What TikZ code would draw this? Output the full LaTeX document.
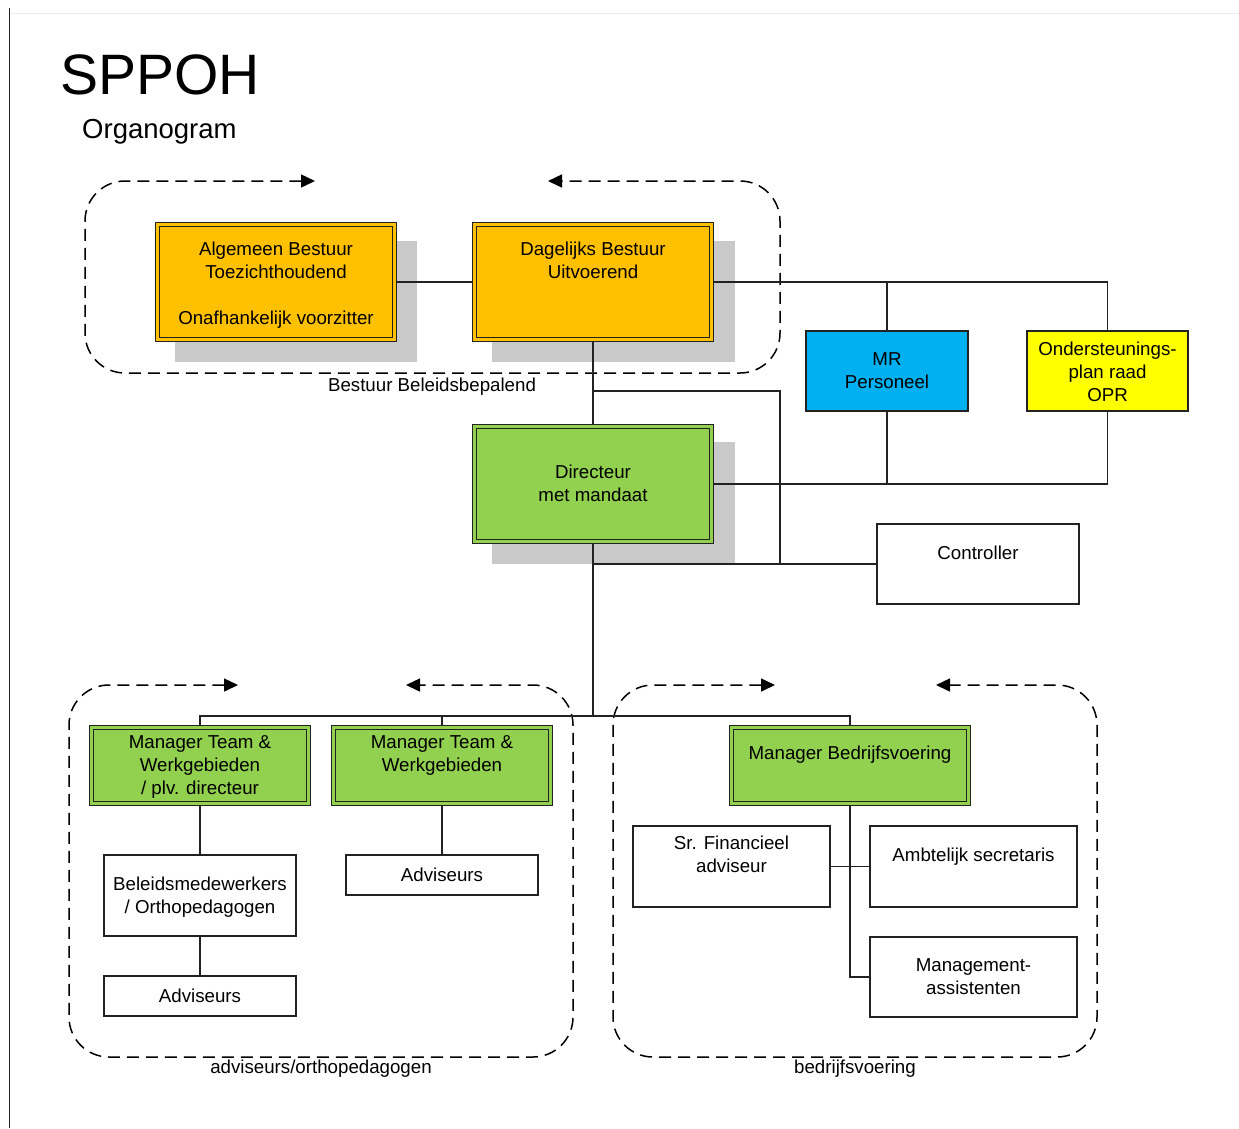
\documentclass[tikz,border=0pt]{standalone}
\usepackage{fontspec}
\setmainfont{Liberation Sans}
\usetikzlibrary{arrows.meta,calc}
\definecolor{orgfill}{HTML}{FFC000}
\definecolor{grnfill}{HTML}{92D050}
\definecolor{bluefill}{HTML}{00B0F0}
\definecolor{yelfill}{HTML}{FFFF00}
\definecolor{shadowgray}{HTML}{C9C9C9}
\definecolor{edge}{HTML}{222222}
\begin{document}
\begin{tikzpicture}[x=1pt,y=-1pt,
  bodyfont/.style={font=\fontsize{18.7}{23}\selectfont},
  txt/.style={bodyfont,inner sep=0pt,anchor=north,align=center,text=black},
  lbl/.style={bodyfont,inner sep=0pt,anchor=base,text=black},
  plainbox/.style={draw=edge,line width=1.3pt,fill=white,inner sep=0pt},
  dblbox/.style={draw=edge,line width=1.3pt,inner sep=0pt},
  innerline/.style={draw=edge,line width=1.2pt},
  conn/.style={draw=edge,line width=1.3pt},
  grp/.style={draw=black,line width=1.5pt,dash pattern=on 12pt off 7pt,rounded corners=40pt},
  tip/.tip={Triangle[length=14pt,width=13pt]}
]
\useasboundingbox (0,0) rectangle (1239,1128);
\fill[white] (0,0) rectangle (1239,1128);
% page frame
\draw[black!8,line width=1pt] (10,13) -- (1239,13);
\draw[edge,line width=1.5pt] (9.5,8) -- (9.5,1128);

% title
\node[anchor=base west,inner sep=0pt,font=\fontsize{57}{60}\selectfont] (title) at (60,94) {SPPOH};
\node[anchor=base west,inner sep=0pt,font=\fontsize{27.5}{30}\selectfont] (subtitle) at (82,138) {Organogram};

% group outlines
\draw[grp,{tip}-{tip}] (315,181) -- (85,181) -- (85,373) -- (780,373) -- (780,181) -- (548,181);
\draw[grp,{tip}-{tip}] (238,685) -- (69,685) -- (69,1057) -- (573,1057) -- (573,685) -- (406,685);
\draw[grp,{tip}-{tip}] (775,685) -- (613,685) -- (613,1057) -- (1097,1057) -- (1097,685) -- (936,685);

\node[lbl] (glab1) at (432,391) {Bestuur Beleidsbepalend};
\node[lbl] (glab2) at (321,1073) {adviseurs/orthopedagogen};
\node[lbl] (glab3) at (855,1073) {bedrijfsvoering};

% shadows
\fill[shadowgray] (175,241) rectangle (417,362);
\fill[shadowgray] (492,241) rectangle (735,362);
\fill[shadowgray] (492,442) rectangle (735,564);

% boxes
\node[dblbox,fill=orgfill,minimum width=241pt,minimum height=119pt] (ab) at (276,282) {};
\node[dblbox,fill=orgfill,minimum width=241pt,minimum height=119pt] (db) at (593,282) {};
\node[dblbox,fill=grnfill,minimum width=241pt,minimum height=119pt] (dir) at (593,484) {};
\node[plainbox,fill=bluefill,minimum width=162pt,minimum height=80pt] (mr) at (887,371) {};
\node[plainbox,fill=yelfill,minimum width=161pt,minimum height=80pt] (opr) at (1107.5,371) {};
\node[plainbox,minimum width=202pt,minimum height=80pt] (ctrl) at (978,564) {};

\node[dblbox,fill=grnfill,minimum width=221pt,minimum height=80pt] (mt1) at (200,765.5) {};
\node[dblbox,fill=grnfill,minimum width=221pt,minimum height=80pt] (mt2) at (442,765.5) {};
\node[dblbox,fill=grnfill,minimum width=241pt,minimum height=80pt] (mb) at (850,765.5) {};

\foreach \b in {ab,db,dir,mt1,mt2,mb}
  \draw[innerline] ($(\b.north west)+(4.3,4.3)$) rectangle ($(\b.south east)+(-4.3,-4.3)$);

\node[plainbox,minimum width=192pt,minimum height=81pt] (bel) at (200,895.5) {};
\node[plainbox,minimum width=192pt,minimum height=40pt] (adv1) at (200,996) {};
\node[plainbox,minimum width=192pt,minimum height=40pt] (adv2) at (442,875) {};
\node[plainbox,minimum width=197pt,minimum height=81pt] (srf) at (731.5,866.5) {};
\node[plainbox,minimum width=207pt,minimum height=81pt] (amb) at (973.5,866.5) {};
\node[plainbox,minimum width=207pt,minimum height=80pt] (mgmt) at (973.5,977) {};

% connectors
\coordinate (j1) at (593,391);
\coordinate (j2) at (780,564);
\coordinate (j3) at (593,564);
\coordinate (bus) at (593,716);
\draw[conn] (ab.east) -- (db.east -| db.west);
\draw[conn] (db.east) -| (opr.north);
\draw[conn] (mr.north) -- (mr.north |- db.east);
\draw[conn] (mr.south) -- (mr.south |- dir.east);
\draw[conn] (dir.east) -| (opr.south);
\draw[conn] (db.south) -- (dir.north);
\draw[conn] (j1) -| (j2) -- (ctrl.west);
\draw[conn] (j3) -- (ctrl.west);
\draw[conn] (dir.south) -- (bus);
\draw[conn] (mt1.north) |- (bus) -| (mb.north);
\draw[conn] (mt2.north) -- (mt2.north |- bus);
\draw[conn] (mt1.south) -- (bel.north);
\draw[conn] (bel.south) -- (adv1.north);
\draw[conn] (mt2.south) -- (adv2.north);
\draw[conn] (mb.south) |- (mgmt.west);
\draw[conn] (srf.east) -- (amb.west);

% texts
\node[txt] (tab) at (276,241.5) {Algemeen Bestuur\\Toezichthoudend\\[23pt]Onafhankelijk voorzitter};
\node[txt] (tdb) at (593,241.5) {Dagelijks Bestuur\\Uitvoerend};
\node[txt] (tmr) at (887,352.5) {MR\\Personeel};
\node[txt] (topr) at (1107.5,341.5) {Ondersteunings-\\plan raad\\OPR};
\node[txt] (tdir) at (593,464.5) {Directeur\\met mandaat};
\node[txt] (tctrl) at (978,545.5) {Controller};
\node[txt] (tmt1) at (200,735.5) {Manager Team \&\\Werkgebieden\\/ plv. directeur};
\node[txt] (tmt2) at (442,735.5) {Manager Team \&\\Werkgebieden};
\node[txt] (tmb) at (850,745.5) {Manager Bedrijfsvoering};
\node[txt] (tbel) at (200,876.5) {Beleidsmedewerkers\\/ Orthopedagogen};
\node[txt] (tadv1) at (200,988.5) {Adviseurs};
\node[txt] (tadv2) at (442,867.5) {Adviseurs};
\node[txt] (tsrf) at (731.5,835.5) {Sr. Financieel\\adviseur};
\node[txt] (tamb) at (973.5,847.5) {Ambtelijk secretaris};
\node[txt] (tmgmt) at (973.5,958.5) {Management-\\assistenten};
\end{tikzpicture}
\end{document}
